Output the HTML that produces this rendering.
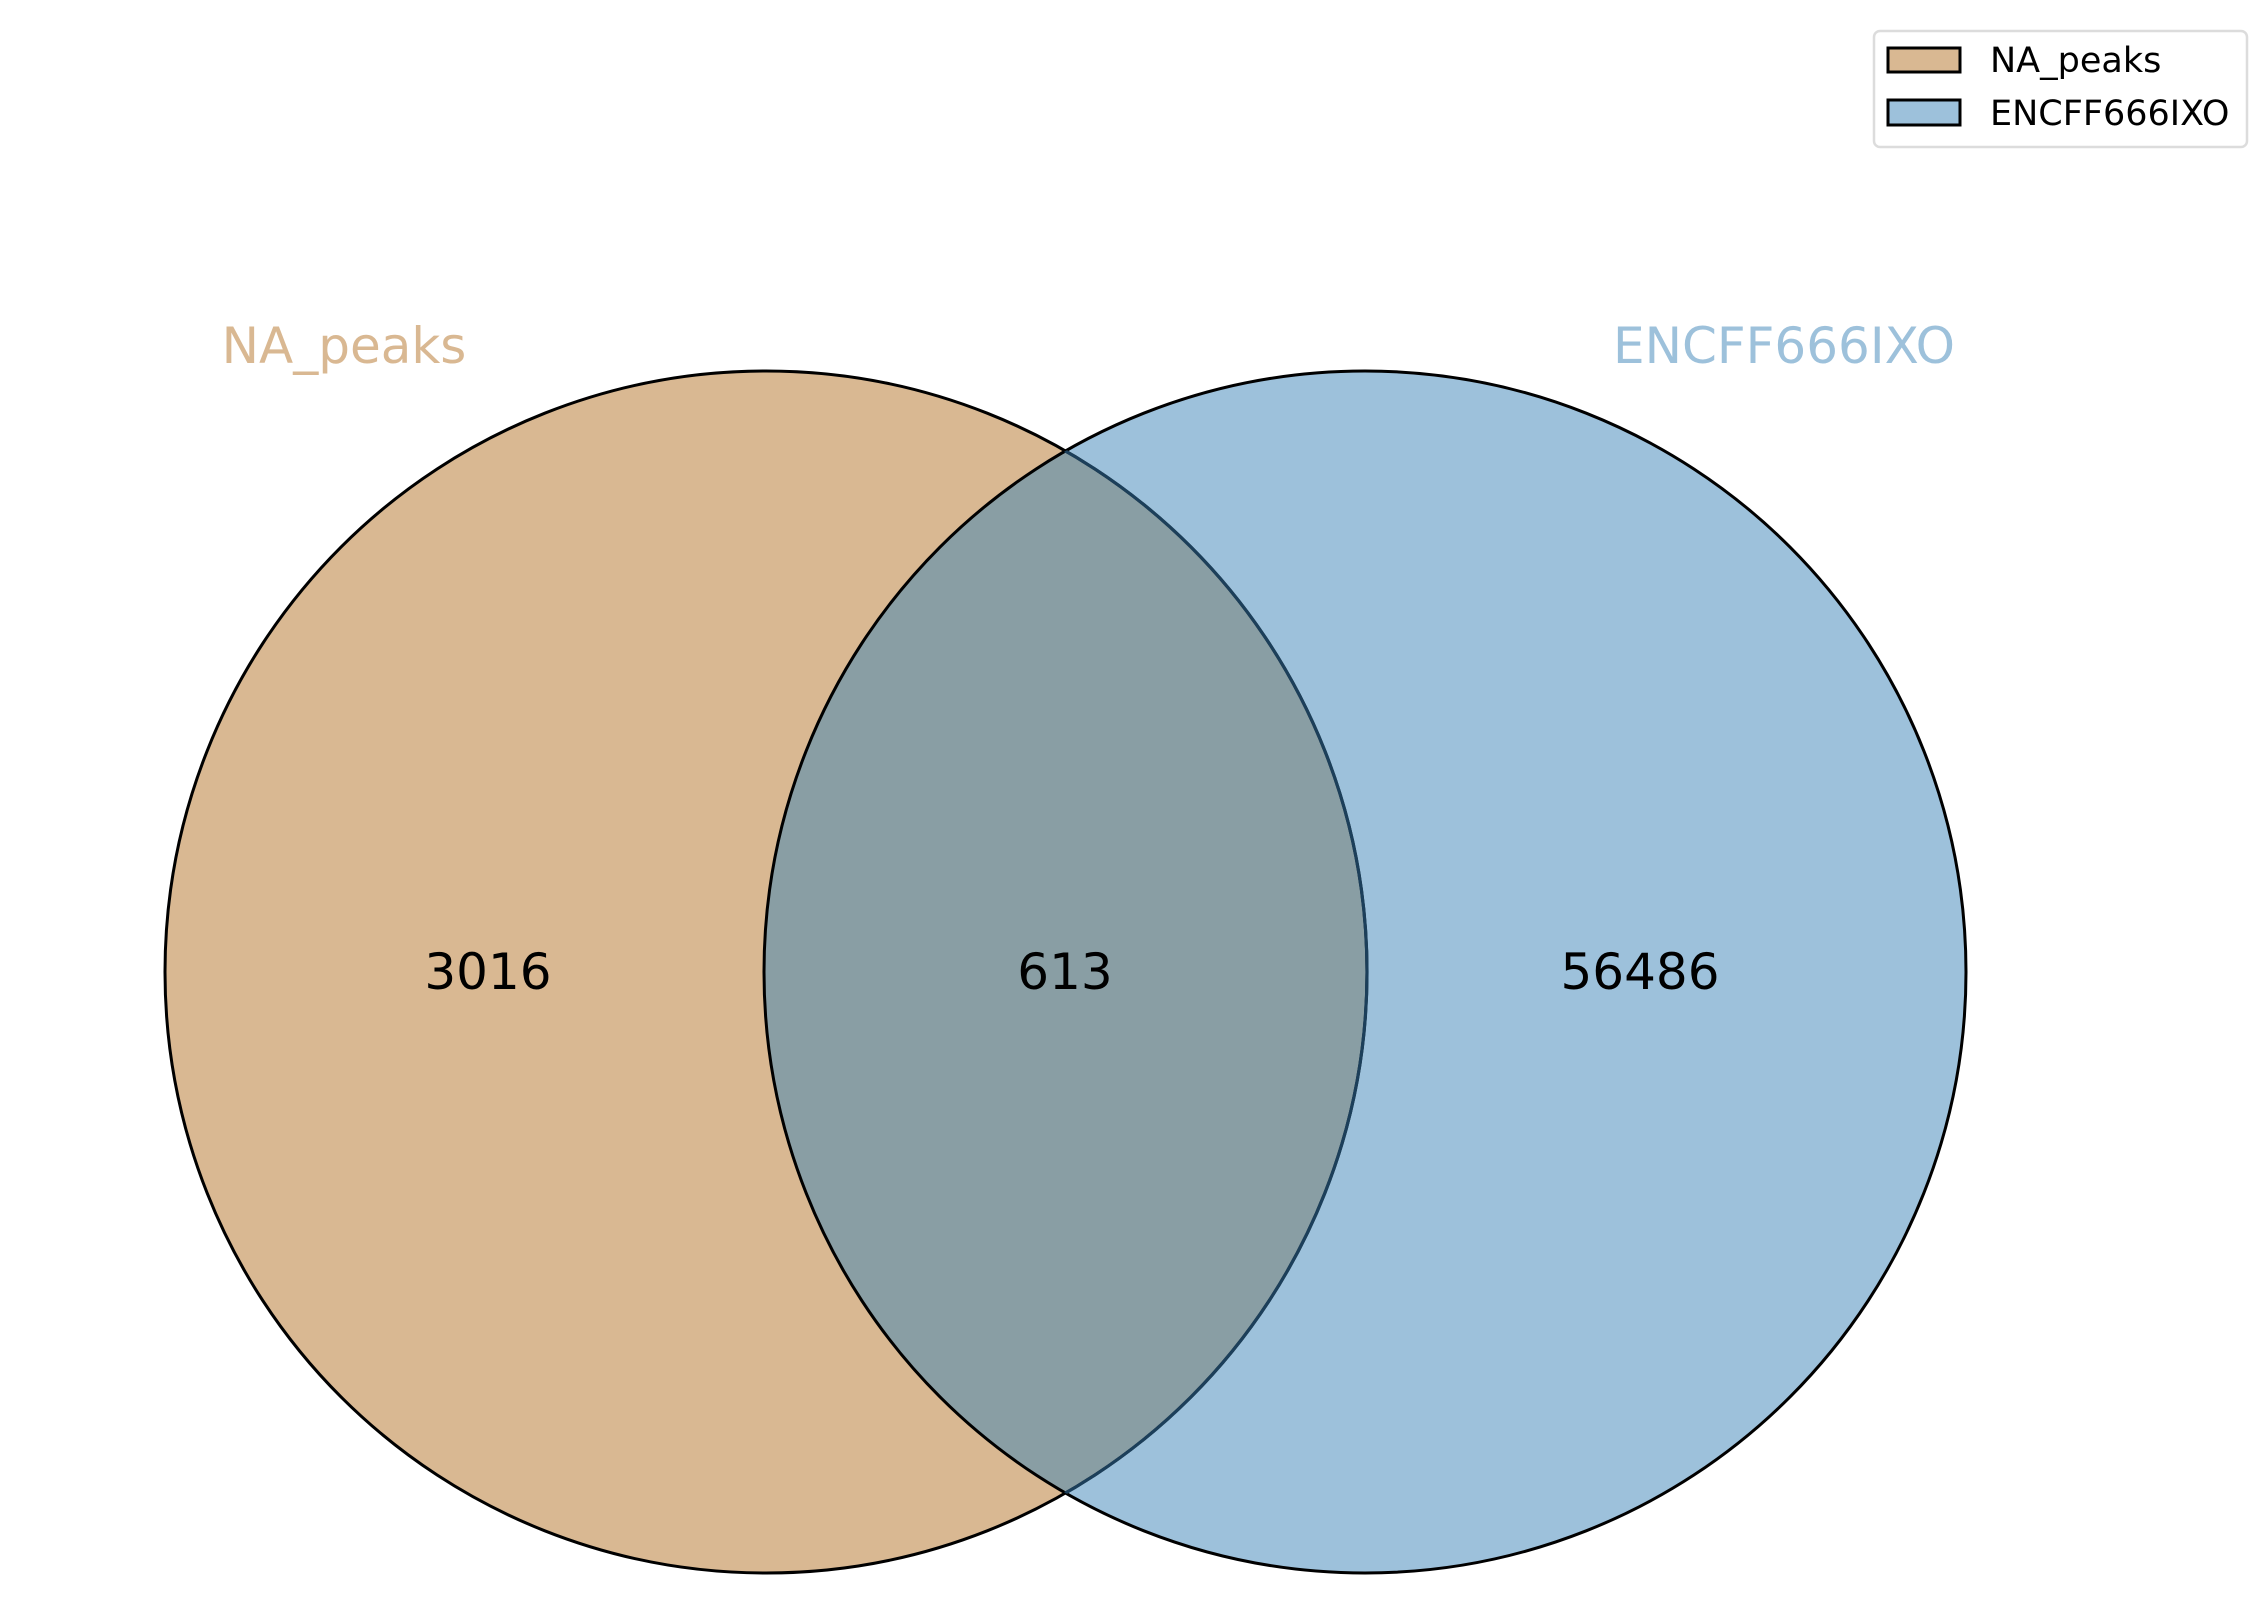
<!DOCTYPE html>
<html><head><meta charset="utf-8">
<style>
html,body{margin:0;padding:0;background:#fff;}
svg{display:block;}
text{font-family:"DejaVu Sans","Liberation Sans",sans-serif;}
</style></head>
<body>
<svg id="chart" width="2262" height="1606" viewBox="0 0 2262 1606" xmlns="http://www.w3.org/2000/svg">
<defs>
<clipPath id="clipRight"><circle id="clipR" cx="1365" cy="971" r="601"/></clipPath>
</defs>
<g id="venn"></g>
<g id="legend">
  <rect x="1874" y="31" width="373" height="116" rx="6" fill="#fff" stroke="#dcdcdc" stroke-width="2.5"/>
  <g>
    <rect x="1888" y="48" width="72" height="24" fill="#d9b892" stroke="#000" stroke-width="3"/>
    <text x="1990" y="72" font-size="35">NA_peaks</text>
  </g>
  <g>
    <rect x="1888" y="100" width="72" height="25" fill="#9dc1db" stroke="#000" stroke-width="3"/>
    <text x="1990" y="125" font-size="35">ENCFF666IXO</text>
  </g>
</g>
</svg>
<script>
const setNames = ["NA_peaks", "ENCFF666IXO"];
const regionCounts = [3016, 613, 56486];
const setColors = ["#d9b892", "#9dc1db"];

const NS = "http://www.w3.org/2000/svg";
const g = document.getElementById("venn");
const cy = 972, r = 601;
const cxs = [766, 1365];
function mk(tag, attrs, parent) {
  const e = document.createElementNS(NS, tag);
  for (const k in attrs) e.setAttribute(k, attrs[k]);
  (parent || g).appendChild(e);
  return e;
}
document.getElementById("clipR").setAttribute("cy", cy);
const c0 = mk("circle", {cx: cxs[0], cy: cy, r: r, fill: setColors[0]});


const c1 = mk("circle", {cx: cxs[1], cy: cy, r: r, fill: setColors[1]});


const ov = mk("circle", {cx: cxs[0], cy: cy, r: r, fill: "#899ea4", "clip-path": "url(#clipRight)"});


const s1 = mk("circle", {cx: cxs[1], cy: cy, r: r, fill: "none", stroke: "#000", "stroke-width": 3});


const s0 = mk("circle", {cx: cxs[0], cy: cy, r: r, fill: "none", stroke: "#000", "stroke-width": 3});


const s0b = mk("circle", {cx: cxs[0], cy: cy, r: r, fill: "none", stroke: "#1c3f5a", "stroke-width": 3.2, "clip-path": "url(#clipRight)"});


const labelX = [344, 1784];
setNames.forEach((n, i) => {
  const t = mk("text", {x: labelX[i], y: 363, "font-size": 50, "text-anchor": "middle", fill: setColors[i]});
  t.textContent = n;
  
  
});
const regionX = [488, 1065, 1640];
regionCounts.forEach((v, i) => {
  const t = mk("text", {x: regionX[i], y: 989, "font-size": 50, "text-anchor": "middle", fill: "#000"});
  t.textContent = String(v);
  
  
});
</script>
</body></html>
